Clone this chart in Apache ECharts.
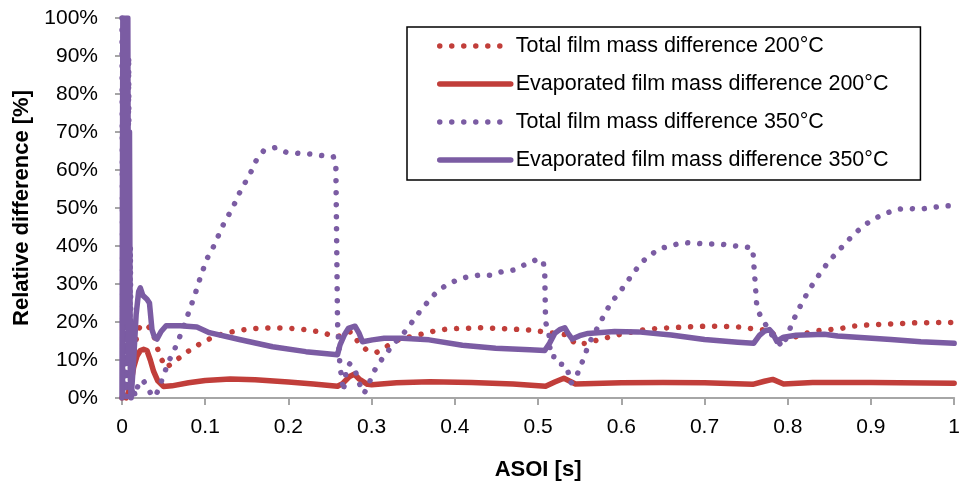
<!DOCTYPE html>
<html>
<head>
<meta charset="utf-8">
<script src="https://cdn.jsdelivr.net/npm/echarts@6/dist/echarts.min.js"></script>
<style>
  html, body { margin: 0; padding: 0; background: #fff; }
  #chart { width: 963px; height: 493px; }
</style>
</head>
<body>
<div id="chart"></div>
<script>
// 图例名称
var NAMES = [
    'Total film mass difference 200°C',
    'Evaporated film mass difference 200°C',
    'Total film mass difference 350°C',
    'Evaporated film mass difference 350°C'
];

var xTicks = [0, 0.1, 0.2, 0.3, 0.4, 0.5, 0.6, 0.7, 0.8, 0.9, 1];
var yTicks = [0, 10, 20, 30, 40, 50, 60, 70, 80, 90, 100];

// Total film mass difference 200°C  [ASOI s, %]
var total200 = [
    [0.005,0],[0.01,2],[0.014,10],[0.018,17],[0.022,19],[0.03,19.2],[0.035,18],[0.04,15.3],
    [0.044,12],[0.048,10],[0.053,8],[0.064,9.7],[0.076,11.8],[0.088,13.5],[0.1,15.1],
    [0.12,16.8],[0.14,17.8],[0.16,18.3],[0.18,18.5],[0.2,18.4],[0.22,18],[0.24,17.3],
    [0.257,16.1],[0.265,16.5],[0.275,17.5],[0.283,15],[0.293,12.8],[0.306,12],[0.319,13.7],
    [0.333,15.4],[0.346,16.1],[0.36,16.8],[0.375,17.6],[0.389,18.1],[0.404,18.3],[0.433,18.5],
    [0.463,18.2],[0.491,17.9],[0.507,17.4],[0.52,17],[0.535,16.6],[0.545,14.2],[0.558,14.4],
    [0.572,15.3],[0.587,16.1],[0.6,16.8],[0.616,17.5],[0.63,18.1],[0.659,18.5],[0.688,18.8],
    [0.703,18.9],[0.733,18.8],[0.747,18.6],[0.76,18.1],[0.775,17.9],[0.79,15.8],[0.804,15.7],
    [0.82,16.9],[0.831,17.6],[0.864,18.3],[0.879,18.9],[0.894,19.2],[0.924,19.5],[0.955,19.8],
    [1,19.9]
];

// Evaporated film mass difference 200°C
var evap200 = [
    [0,0],[0.006,0.5],[0.01,3],[0.014,8],[0.018,11],[0.022,12.5],[0.026,12.8],[0.03,12.5],
    [0.034,10],[0.038,7],[0.043,4.5],[0.05,3],[0.06,3.2],[0.08,4],[0.1,4.6],[0.13,5],
    [0.16,4.8],[0.2,4.2],[0.23,3.7],[0.259,3.1],[0.265,3.8],[0.273,5.6],[0.279,6.3],
    [0.285,5],[0.295,3.6],[0.3,3.5],[0.33,4],[0.37,4.3],[0.42,4.1],[0.47,3.7],[0.509,3.1],
    [0.52,4.2],[0.531,5.2],[0.545,3.7],[0.6,4],[0.65,4.1],[0.7,4],[0.758,3.6],[0.772,4.4],
    [0.782,4.9],[0.795,3.7],[0.83,4.1],[0.9,4.1],[1,3.9]
];

// Total film mass difference 350°C
var total350 = [
    [0,100],[0.001,0],[0.002,100],[0.003,10],[0.004,100],[0.005,0],[0.006,100],[0.007,30],
    [0.008,90],[0.009,0],[0.01,40],[0.011,0],[0.013,3],[0.016,0.5],[0.02,4],[0.025,4.8],
    [0.03,3],[0.035,1],[0.04,0.3],[0.045,3],[0.056,9.6],[0.062,12.2],[0.068,15.3],[0.078,21.2],
    [0.083,24.3],[0.088,27.4],[0.092,30.3],[0.097,33.5],[0.102,36.6],[0.109,39.4],[0.115,42.3],
    [0.121,45.3],[0.128,48.1],[0.135,51],[0.141,53.9],[0.148,56.7],[0.155,59.5],[0.161,62.4],
    [0.17,65],[0.184,65.9],[0.197,64.7],[0.212,64.4],[0.226,64.2],[0.24,63.8],[0.254,63.5],
    [0.257,61],[0.259,20],[0.262,8],[0.264,5.5],[0.266,1.7],[0.27,8],[0.274,9.1],[0.28,7.4],
    [0.285,3.9],[0.291,1.2],[0.297,4],[0.303,7.1],[0.311,9.8],[0.32,12.4],[0.329,14.8],
    [0.339,17.2],[0.348,19.8],[0.357,22.5],[0.366,24.9],[0.376,27.4],[0.387,29.3],[0.4,30.8],
    [0.414,31.8],[0.428,32.3],[0.442,32.3],[0.456,33.2],[0.471,33.7],[0.484,35.1],[0.497,36.3],
    [0.506,36.2],[0.508,33],[0.509,20],[0.513,17],[0.515,11],[0.524,10.7],[0.528,8.9],
    [0.533,8.7],[0.536,6.9],[0.539,3.9],[0.545,4.9],[0.55,8],[0.556,10.9],[0.56,13.9],
    [0.574,19.6],[0.581,22.5],[0.588,25.2],[0.598,27.8],[0.606,30.3],[0.615,33],[0.624,35.6],
    [0.635,37.7],[0.647,39.3],[0.661,40.2],[0.675,40.9],[0.69,40.7],[0.705,40.5],[0.719,40.5],
    [0.734,40.1],[0.748,39.8],[0.758,39.4],[0.759,36],[0.761,30],[0.763,23.6],[0.769,20.8],
    [0.775,18.8],[0.782,16.2],[0.794,13.5],[0.805,19.5],[0.811,22.5],[0.818,25.4],[0.825,28.2],
    [0.833,30.9],[0.841,33.5],[0.85,36.1],[0.86,38.5],[0.87,40.9],[0.88,43.2],[0.891,45.3],
    [0.903,47.1],[0.917,48.5],[0.93,49.6],[0.945,49.9],[0.959,49.7],[0.974,50.1],[0.988,50.6],
    [1,50.5]
];

// Evaporated film mass difference 350°C
var evap350 = [
    [0,0],[0.001,100],[0.002,20],[0.003,100],[0.004,50],[0.005,100],[0.006,30],[0.007,100],
    [0.008,10],[0.009,70],[0.01,5],[0.011,0],[0.014,10],[0.017,22],[0.02,28],[0.022,29],
    [0.025,27],[0.03,26],[0.033,25],[0.036,18],[0.039,16],[0.042,15.5],[0.047,17.5],
    [0.053,19],[0.07,19],[0.09,18.7],[0.105,17.2],[0.141,15.4],[0.181,13.5],[0.221,12.2],
    [0.259,11.4],[0.262,14],[0.267,16.5],[0.272,18.3],[0.28,18.9],[0.285,17],[0.289,14.8],
    [0.301,15.3],[0.315,15.7],[0.337,15.7],[0.369,15.3],[0.409,13.9],[0.449,13.1],[0.49,12.7],
    [0.508,12.5],[0.514,14.5],[0.52,17],[0.526,18],[0.532,18.5],[0.536,17],[0.541,15.5],
    [0.55,16.4],[0.56,17],[0.592,17.5],[0.62,17.4],[0.66,16.6],[0.7,15.4],[0.74,14.7],
    [0.759,14.4],[0.766,16.5],[0.772,17.6],[0.778,18],[0.782,17],[0.787,14.9],[0.795,16],
    [0.81,16.5],[0.844,16.8],[0.86,16.3],[0.924,15.4],[0.96,14.8],[1,14.4]
];

var RED = '#c13e3a';
var PURPLE = '#7b5ca3';
var FONT = 'Liberation Sans, Arial, sans-serif';

function drawChart() {
    var axisLine = {show: true, lineStyle: {color: '#a6a6a6', width: 2}};
    var axisTick = {show: true, inside: false, length: 7, lineStyle: {color: '#a6a6a6', width: 2}};

    var dotted = function(color){
        return {color: color, width: 5.5, type: [0.01, 12], cap: 'round'};
    };
    var solid = function(color){
        return {color: color, width: 5.5, cap: 'round', join: 'round'};
    };

    var option = {
        animation: false,
        backgroundColor: '#fff',
        textStyle: {fontFamily: FONT},
        grid: {left: 122, right: 6, top: 18, bottom: 95, containLabel: false},
        legend: {
            orient: 'vertical',
            left: 407, top: 27,
            padding: [8, 32, 9, 30],
            itemWidth: 71, itemHeight: 10, itemGap: 16,
            borderColor: '#000', borderWidth: 1.5,
            backgroundColor: '#fff',
            itemStyle: {opacity: 0},
            lineStyle: {width: 5.5, type: 'inherit', cap: 'round'},
            textStyle: {fontSize: 21.5, color: '#000', fontFamily: FONT},
            data: NAMES
        },
        xAxis: {
            type: 'value',
            min: 0, max: 1, interval: 0.1,
            name: 'ASOI [s]',
            nameLocation: 'middle', nameGap: 61,
            nameTextStyle: {fontSize: 22, fontWeight: 'bold', color: '#000', fontFamily: FONT},
            axisLine: axisLine, axisTick: axisTick,
            splitLine: {show: false},
            axisLabel: {
                fontSize: 21, color: '#000', margin: 19, fontFamily: FONT,
                formatter: function(v){ return String(+v.toFixed(1)); }
            }
        },
        yAxis: {
            type: 'value',
            min: 0, max: 100, interval: 10,
            name: 'Relative difference [%]',
            nameLocation: 'middle', nameGap: 84,
            nameTextStyle: {fontSize: 22, fontWeight: 'bold', color: '#000', fontFamily: FONT},
            axisLine: axisLine, axisTick: axisTick,
            splitLine: {show: false},
            axisLabel: {fontSize: 21, color: '#000', margin: 24, fontFamily: FONT, formatter: '{value}%'}
        },
        series: [
            {name: NAMES[0], type: 'line', data: total200, symbol: 'none', lineStyle: dotted(RED), itemStyle: {color: RED}},
            {name: NAMES[1], type: 'line', data: evap200, symbol: 'none', lineStyle: solid(RED), itemStyle: {color: RED}},
            {name: NAMES[2], type: 'line', data: total350, symbol: 'none', lineStyle: dotted(PURPLE), itemStyle: {color: PURPLE}},
            {name: NAMES[3], type: 'line', data: evap350, symbol: 'none', lineStyle: solid(PURPLE), itemStyle: {color: PURPLE}}
        ]
    };
    var myChart = echarts.init(document.getElementById('chart'));
    myChart.setOption(option);
}

drawChart();
</script>
</body>
</html>
